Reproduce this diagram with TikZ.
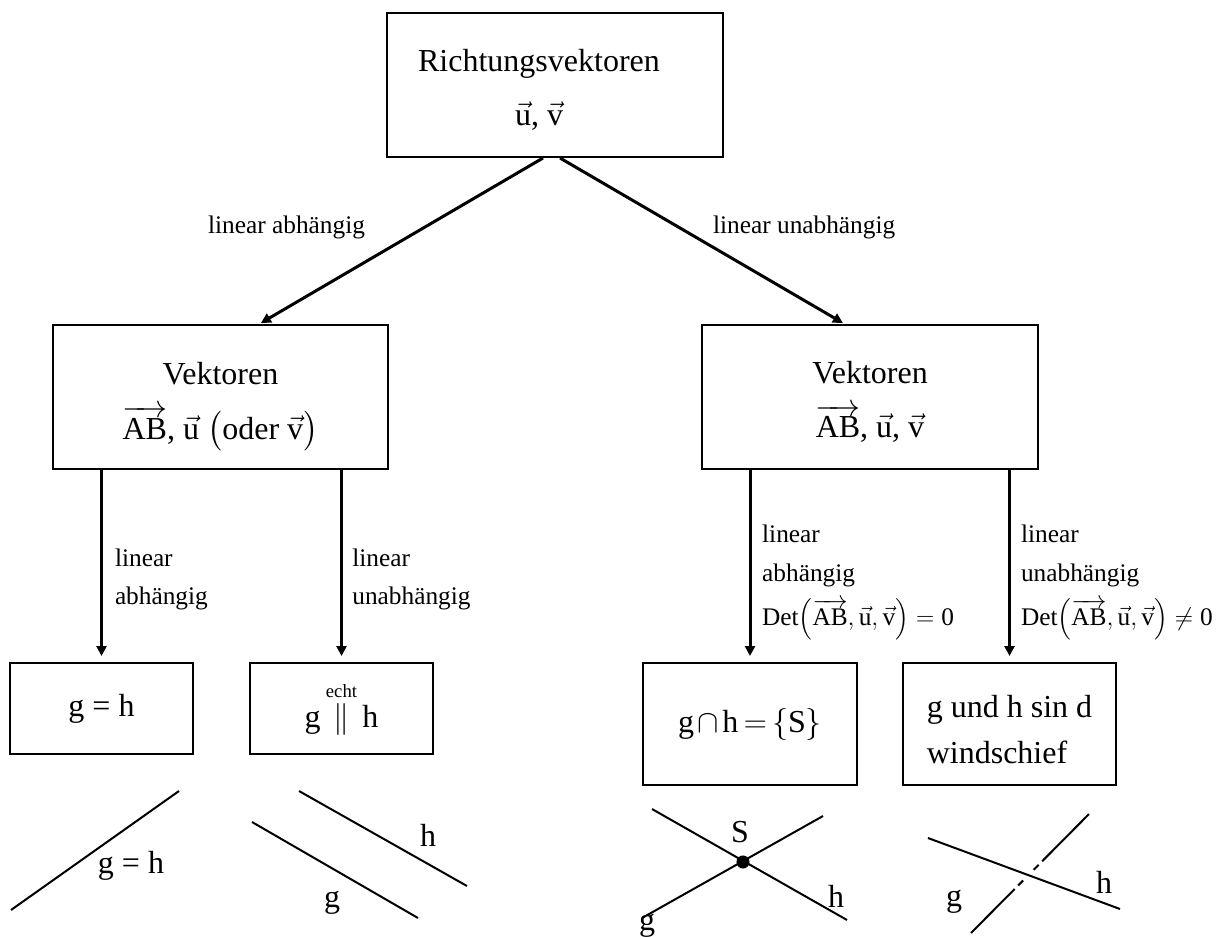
\RequirePackage{fix-cm}
\documentclass[tikz,border=0pt]{standalone}
\usepackage{amsmath}
\usepackage{fontspec}
\setmainfont{Liberation Serif}
\usetikzlibrary{arrows.meta, positioning, calc}

\newcommand{\vek}[1]{\vec{\text{#1}}}

\begin{document}
\begin{tikzpicture}[x=0.75pt, y=-0.75pt,
  box/.style={draw, line width=1.5pt, align=center, inner sep=0pt, font=\fontsize{24}{41}\selectfont},
  line/.style={line width=2.25pt, -{Triangle[length=7.5pt, width=7.5pt]}},
  lbl/.style={font=\fontsize{19}{29}\selectfont, align=left, inner sep=0pt},
  fig/.style={line width=1.5pt},
  figlbl/.style={font=\fontsize{24}{28}\selectfont, inner sep=0pt}
]
\useasboundingbox (0,0) rectangle (1217,936);

% Kaesten
\node[box, minimum width=252pt, minimum height=108pt] (rv) at (555,85) {\rule{0pt}{24pt}Richtungsvektoren\hspace*{24pt}\\$\vek{u}$, $\vek{v}$\hspace*{24pt}};
\node[box, minimum width=251pt, minimum height=108pt] (vl) at (220.5,397) {\rule{0pt}{31pt}Vektoren\\$\overrightarrow{\text{AB}}$, $\vek{u}$ $\bigl($oder $\vek{v}\bigr)$};
\node[box, minimum width=252pt, minimum height=108pt] (vr) at (870,397) {\rule{0pt}{24pt}Vektoren\\$\overrightarrow{\text{AB}}$, $\vek{u}$, $\vek{v}$};

\node[box, minimum width=137.25pt, minimum height=68.25pt] (eq) at (101.5,708.5) {g = h};
\node[box, minimum width=137.25pt, minimum height=68.25pt] (par) at (341.5,708.5) {g\hspace{4pt}$\overset{\text{\fontsize{14}{14}\selectfont echt}}{\|}$\hspace{4pt}h};
\node[box, minimum width=160.5pt, minimum height=91.5pt] (cut) at (750,724) {\medmuskip=2mu\thickmuskip=3mu$\text{g}\cap\text{h}=\{\text{S}\}$};
\node[box, align=left, minimum width=160pt, minimum height=91.5pt, font=\fontsize{24}{34.5}\selectfont] (skew) at (1009.5,724) {\rule{0pt}{25pt}g und h sin d\\windschief};

% Pfeile oben
\draw[line, shorten >=1.5pt] ([xshift=-9pt]rv.south) -- node[lbl, pos=0.42, anchor=east, xshift=-43pt] (la) {linear abhängig} ([xshift=29pt]vl.north);
\draw[line, shorten >=1.5pt] ([xshift=3.75pt]rv.south) -- node[lbl, pos=0.42, anchor=west, xshift=24pt] (lu) {linear unabhängig} ([xshift=-19pt]vr.north);

% Pfeile unten
\draw[line, shorten >=4.5pt] (vl.south -| eq.north) -- node[lbl, pos=0.57, anchor=west, xshift=9pt] (lla) {linear\\abhängig} (eq.north);
\draw[line, shorten >=4.5pt] (vl.south -| par.north) -- node[lbl, pos=0.57, anchor=west, xshift=7pt] (llu) {linear\\unabhängig} (par.north);
\draw[line, shorten >=4.5pt] (vr.south -| cut.north) -- node[lbl, pos=0.59, anchor=west, xshift=8pt] (lra) {linear\\abhängig\\[4pt]$\text{Det}\Bigl(\overrightarrow{\text{AB}}, \vek{u}, \vek{v}\Bigr)=\text{0}$} (cut.north);
\draw[line, shorten >=4.5pt] (vr.south -| skew.north) -- node[lbl, pos=0.59, anchor=west, xshift=7.5pt] (lru) {linear\\unabhängig\\[4pt]$\text{Det}\Bigl(\overrightarrow{\text{AB}}, \vek{u}, \vek{v}\Bigr)\neq\text{0}$} (skew.north);

% Skizzen
\draw[fig] (11,910) -- (179,791);
\node[figlbl] (fgh) at (131,866) {g = h};

\draw[fig] (252,822) -- (418,918);
\draw[fig] (299,791) -- (467,886);
\node[figlbl] (fph) at (428,835) {h};
\node[figlbl] (fpg) at (332,903) {g};

\draw[fig] (652,809) -- (847,920);
\draw[fig] (642,918) -- (823,816);
\fill (743,862) circle[radius=4.9pt];
\node[figlbl] (fss) at (740,832) {S};
\node[figlbl] (fsh) at (836,896) {h};
\node[figlbl] (fsg) at (647,926) {g};

\draw[fig] (928,838) -- (1120,909);
\draw[fig, dash pattern=on 46.5pt off 3.75pt on 5.25pt off 11.25pt on 5.25pt off 3.75pt on 60pt] (971,933) -- (1089,814);
\node[figlbl] (fwg) at (954,902) {g};
\node[figlbl] (fwh) at (1104,882) {h};

\end{tikzpicture}
\end{document}
